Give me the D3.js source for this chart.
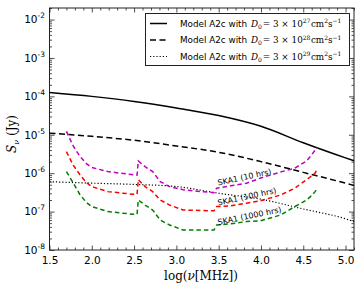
<!DOCTYPE html>
<html>
<head>
<meta charset="utf-8">
<script src="https://cdn.jsdelivr.net/npm/d3@7"></script>
<style>
  body { margin: 0; background: #fff; }
  svg { display: block; }
  .tick text { font-family: "DejaVu Sans", sans-serif; fill: #000; }
  .tick line { stroke: #222; }
</style>
</head>
<body>
<svg id="chart" width="357" height="291"></svg>
<script>
'use strict';

// frequency points, log(nu[MHz])
const modelX = [1.5, 2.0, 2.5, 3.0, 3.5, 4.0, 4.5, 5.0, 5.1];
// model A2c fluxes (Jy)
const modelD27 = [1.26e-4, 1.0e-4, 7.4e-5, 5.0e-5, 3.16e-5, 1.66e-5, 6.2e-6, 2.5e-6, 2.1e-6];
const modelD28 = [1.1e-5, 9.1e-6, 7.2e-6, 5.1e-6, 3.5e-6, 2.0e-6, 1.05e-6, 5.5e-7, 4.8e-7];
const modelD29 = [6.0e-7, 5.5e-7, 5.1e-7, 4.5e-7, 3.0e-7, 2.1e-7, 1.17e-7, 6.5e-8, 5.5e-8];

// SKA1 sensitivity curves
const skaX = [1.70, 1.78, 1.86, 1.94, 2.00, 2.19, 2.49, 2.535, 2.55, 2.63, 2.72, 2.81, 2.92,
              3.08, 3.28, 3.42, 3.445, 3.476, 3.64, 3.83, 3.99, 4.23, 4.40, 4.54, 4.60, 4.64, 4.67];
const ska10 = [1.23e-5, 5.13e-6, 2.75e-6, 1.74e-6, 1.41e-6, 1.10e-6, 9.1e-7, 8.9e-7, 2.09e-6, 1.48e-6, 1.10e-6, 6.0e-7, 4.47e-7,
               3.72e-7, 3.31e-7, 3.16e-7, 3.09e-7, 4.07e-7, 4.68e-7, 5.5e-7, 7.4e-7, 1.07e-6, 1.35e-6, 2.09e-6, 3.02e-6, 3.98e-6, 4.68e-6];
const ska100 = [3.63e-6, 1.62e-6, 9.1e-7, 5.6e-7, 4.47e-7, 3.31e-7, 2.82e-7, 2.82e-7, 6.8e-7, 4.47e-7, 3.31e-7, 2.0e-7, 1.48e-7,
                1.10e-7, 1.07e-7, 1.05e-7, 1.05e-7, 1.35e-7, 1.41e-7, 1.66e-7, 1.91e-7, 2.69e-7, 4.07e-7, 6.8e-7, 8.5e-7, 1.0e-6, 1.35e-6];
const ska1000 = [1.10e-6, 5.6e-7, 2.75e-7, 1.70e-7, 1.35e-7, 1.0e-7, 8.5e-8, 8.5e-8, 2.0e-7, 1.48e-7, 1.10e-7, 6.0e-8, 4.47e-8,
                 3.31e-8, 3.31e-8, 3.31e-8, 3.31e-8, 4.47e-8, 4.79e-8, 5.5e-8, 5.75e-8, 8.1e-8, 1.35e-7, 2.0e-7, 2.63e-7, 3.31e-7, 3.98e-7];

const xTicks = [1.5, 2.0, 2.5, 3.0, 3.5, 4.0, 4.5, 5.0];
const yTicks = [1e-8, 1e-7, 1e-6, 1e-5, 1e-4, 1e-3, 1e-2];
const legendExp = ['27', '28', '29'];
const skaLabels = ['SKA1 (10 hrs)', 'SKA1 (100 hrs)', 'SKA1 (1000 hrs)'];

const svg = d3.select('#chart');
const pLeft = 49.5, pRight = 354, pTop = 8, pBottom = 250;

const x = d3.scaleLinear().domain([1.5, 5.1]).range([pLeft, pRight]);
const y = d3.scaleLog().domain([1e-8, 2e-2]).range([pBottom, pTop]);

// minor ticks
const xMinor = d3.range(15, 52).map(d => d / 10).filter(d => xTicks.indexOf(d) < 0);
const yMinor = [];
for (let e = -8; e <= -2; e++) {
  for (let m = 2; m <= 9; m++) {
    const v = m * Math.pow(10, e);
    if (v <= 2e-2) yMinor.push(v);
  }
}

const g = svg.append('g');

function drawAxis(axisFn, scale, ticks, size, transform, labels) {
  const a = axisFn(scale).tickValues(ticks).tickSize(-size).tickPadding(labels ? 8 : 0);
  if (!labels) a.tickFormat('');
  const ag = g.append('g').attr('transform', transform).call(a);
  ag.select('.domain').remove();
  ag.selectAll('.tick line').attr('stroke-width', 0.8);
  return ag;
}

// bottom
const xAx = drawAxis(d3.axisBottom, x, xTicks, 4.5, `translate(0,${pBottom})`, true);
xAx.selectAll('.tick text').attr('font-size', 10.5).attr('dy', '0.6em').text(d => d.toFixed(1));
drawAxis(d3.axisBottom, x, xMinor, 2.5, `translate(0,${pBottom})`, false);
// top
drawAxis(d3.axisTop, x, xTicks, 4.5, `translate(0,${pTop})`, false);
drawAxis(d3.axisTop, x, xMinor, 2.5, `translate(0,${pTop})`, false);
// left
const yAx = drawAxis(d3.axisLeft, y, yTicks, 5, `translate(${pLeft},0)`, true);
yAx.selectAll('.tick text').attr('font-size', 10.5).attr('x', -4.5).each(function (d) {
  const t = d3.select(this).text('');
  t.append('tspan').text('10');
  t.append('tspan').attr('dy', -5).attr('font-size', 7.5).text('-' + Math.round(-Math.log10(d)));
});
drawAxis(d3.axisLeft, y, yMinor, 2.5, `translate(${pLeft},0)`, false);
// right
drawAxis(d3.axisRight, y, yTicks, 5, `translate(${pRight},0)`, false);
drawAxis(d3.axisRight, y, yMinor, 2.5, `translate(${pRight},0)`, false);

// frame
g.append('rect')
  .attr('x', pLeft).attr('y', pTop)
  .attr('width', pRight - pLeft).attr('height', pBottom - pTop)
  .attr('fill', 'none').attr('stroke', '#222').attr('stroke-width', 1);

const line = d3.line().x(d => x(d[0])).y(d => y(d[1]));
const smooth = d3.line().x(d => x(d[0])).y(d => y(d[1])).curve(d3.curveMonotoneX);

const models = [
  { vals: modelD27, dash: null, w: 1.5 },
  { vals: modelD28, dash: '6,3.5', w: 1.5 },
  { vals: modelD29, dash: '1.2,2', w: 1.2 }
];
models.forEach(m => {
  g.append('path')
    .attr('d', smooth(modelX.map((v, i) => [v, m.vals[i]])))
    .attr('fill', 'none').attr('stroke', '#000')
    .attr('stroke-width', m.w)
    .attr('stroke-dasharray', m.dash);
});

const skas = [
  { vals: ska10, color: '#bf00bf' },
  { vals: ska100, color: '#ff0000' },
  { vals: ska1000, color: '#008000' }
];
skas.forEach(s => {
  g.append('path')
    .attr('d', line(skaX.map((v, i) => [v, s.vals[i]])))
    .attr('fill', 'none').attr('stroke', s.color)
    .attr('stroke-width', 1.5)
    .attr('stroke-dasharray', '4.5,3');
});

// SKA labels
const skaLabelPos = [[3.495, 185.5, -12], [3.495, 205.5, -12], [3.495, 225, -11.5]];
skaLabels.forEach((s, i) => {
  const p = skaLabelPos[i];
  g.append('text')
    .attr('transform', `translate(${x(p[0])},${p[1]}) rotate(${p[2]})`)
    .attr('font-family', 'DejaVu Sans, sans-serif')
    .attr('font-size', 8)
    .text(s);
});

// legend
const lg = g.append('g');
lg.append('rect')
  .attr('x', 145.5).attr('y', 13.5).attr('width', 204).attr('height', 52)
  .attr('fill', '#fff').attr('stroke', '#222').attr('stroke-width', 1);
models.forEach((m, i) => {
  const ly = 23.5 + i * 16.5;
  lg.append('line')
    .attr('x1', 150).attr('x2', 167).attr('y1', ly).attr('y2', ly)
    .attr('stroke', '#000').attr('stroke-width', m.w)
    .attr('stroke-dasharray', m.dash);
  const t = lg.append('text')
    .attr('x', 180).attr('y', ly + 3.2)
    .attr('font-family', 'DejaVu Sans, sans-serif')
    .attr('font-size', 8.8);
  t.append('tspan').text('Model A2c with ');
  const mf = 'DejaVu Serif, serif';
  t.append('tspan').attr('font-family', mf).attr('font-style', 'italic').attr('dx', 1).text('D');
  t.append('tspan').attr('font-family', mf).attr('font-size', 6).attr('dy', 1.8).text('0');
  t.append('tspan').attr('font-family', mf).attr('dy', -1.8).attr('dx', 1).text('= 3 \u00d7 10');
  t.append('tspan').attr('font-family', mf).attr('font-size', 6).attr('dy', -3.5).text(legendExp[i]);
  t.append('tspan').attr('font-family', mf).attr('dy', 3.5).attr('dx', 0.5).text('cm');
  t.append('tspan').attr('font-family', mf).attr('font-size', 6).attr('dy', -3.5).text('2');
  t.append('tspan').attr('font-family', mf).attr('dy', 3.5).text('s');
  t.append('tspan').attr('font-family', mf).attr('font-size', 6).attr('dy', -3.5).text('\u22121');
});

// axis labels
const xl = g.append('text')
  .attr('x', 201).attr('y', 280)
  .attr('text-anchor', 'middle')
  .attr('font-family', 'DejaVu Serif, serif')
  .attr('font-size', 12);
xl.append('tspan').text('log(');
xl.append('tspan').attr('font-style', 'italic').text('\u03bd');
xl.append('tspan').text('[MHz])');

const yl = g.append('text')
  .attr('transform', 'translate(16,134) rotate(-90)')
  .attr('text-anchor', 'middle')
  .attr('font-family', 'DejaVu Serif, serif')
  .attr('font-size', 12);
yl.append('tspan').attr('font-style', 'italic').text('S');
yl.append('tspan').attr('font-style', 'italic').attr('font-size', 8).attr('dy', 3).text('\u03bd');
yl.append('tspan').attr('dy', -3).text(' (Jy)');
</script>
</body>
</html>
